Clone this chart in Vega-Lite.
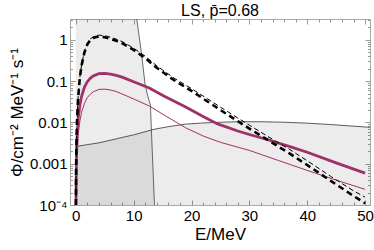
{
  "$schema": "https://vega.github.io/schema/vega-lite/v6.json",
  "width": 300,
  "height": 186,
  "autosize": "none",
  "padding": {"left": 70, "top": 19, "right": 4, "bottom": 45},
  "config": {
    "font": "Liberation Sans",
    "view": {"stroke": "#a8a8a8", "strokeWidth": 1},
    "axis": {"grid": false, "domain": false, "tickColor": "#999999", "labelColor": "black", "titleColor": "black", "labelFont": "Liberation Sans", "titleFont": "Liberation Sans", "labelFontSize": 15, "titleFontSize": 17, "titleFontWeight": "normal"}
  },
  "title": {"text": "LS, p̄=0.68", "fontSize": 16, "fontWeight": "normal", "font": "Liberation Sans", "offset": 4, "dy": 4},
  "datasets": {
    "region1": [
      {"E": 0, "v": 10}, {"E": 10.3, "v": 10}, {"E": 10.5, "v": 3.5}, {"E": 11.3, "v": 0.54}, {"E": 12.0, "v": 0.079}, {"E": 12.4, "v": 0.046}, {"E": 12.9, "v": 0.026}, {"E": 13.05, "v": 0.0076}, {"E": 13.6, "v": 0.0001}, {"E": 13.7, "v": 0.00002}
    ],
    "region2": [
      {"E": 0, "v": 0.0026}, {"E": 2, "v": 0.0029}, {"E": 4, "v": 0.0032}, {"E": 7, "v": 0.004}, {"E": 10, "v": 0.005}, {"E": 13.5, "v": 0.0068}, {"E": 16, "v": 0.0079}, {"E": 19, "v": 0.0091}, {"E": 22, "v": 0.0097}, {"E": 25, "v": 0.0101}, {"E": 28, "v": 0.0104}, {"E": 32, "v": 0.0104}, {"E": 36, "v": 0.0101}, {"E": 40, "v": 0.0096}, {"E": 44, "v": 0.0089}, {"E": 47, "v": 0.0083}, {"E": 51, "v": 0.0076}
    ],
    "dashThick": [
      {"E": 0.02, "v": 0.0001}, {"E": 0.05, "v": 0.0006}, {"E": 0.1, "v": 0.0025}, {"E": 0.2, "v": 0.01}, {"E": 0.4, "v": 0.038}, {"E": 0.7, "v": 0.12}, {"E": 1.0, "v": 0.24}, {"E": 1.5, "v": 0.5}, {"E": 2.0, "v": 0.78}, {"E": 2.5, "v": 0.98}, {"E": 3.0, "v": 1.1}, {"E": 3.5, "v": 1.17}, {"E": 4.0, "v": 1.2}, {"E": 5.0, "v": 1.16}, {"E": 6.0, "v": 1.06}, {"E": 7.0, "v": 0.95}, {"E": 8.0, "v": 0.83}, {"E": 10, "v": 0.57}, {"E": 12, "v": 0.36}, {"E": 14, "v": 0.21}, {"E": 17, "v": 0.105}, {"E": 20, "v": 0.058}, {"E": 25, "v": 0.02}, {"E": 28, "v": 0.0107}, {"E": 30, "v": 0.0071}, {"E": 34, "v": 0.0032}, {"E": 37, "v": 0.00175}, {"E": 40, "v": 0.00093}, {"E": 44, "v": 0.00039}, {"E": 48, "v": 0.000166}, {"E": 50, "v": 0.00011}
    ],
    "dashThin": [
      {"E": 0.02, "v": 0.0001}, {"E": 0.05, "v": 0.0006}, {"E": 0.1, "v": 0.0026}, {"E": 0.2, "v": 0.0105}, {"E": 0.4, "v": 0.04}, {"E": 0.7, "v": 0.125}, {"E": 1.0, "v": 0.25}, {"E": 1.5, "v": 0.53}, {"E": 2.0, "v": 0.83}, {"E": 2.5, "v": 1.05}, {"E": 3.0, "v": 1.18}, {"E": 3.5, "v": 1.26}, {"E": 4.0, "v": 1.3}, {"E": 5.0, "v": 1.26}, {"E": 6.0, "v": 1.16}, {"E": 7.0, "v": 1.04}, {"E": 8.0, "v": 0.91}, {"E": 10, "v": 0.63}, {"E": 12, "v": 0.4}, {"E": 14, "v": 0.235}, {"E": 17, "v": 0.118}, {"E": 20, "v": 0.066}, {"E": 25, "v": 0.0235}, {"E": 28, "v": 0.0128}, {"E": 30, "v": 0.0086}, {"E": 34, "v": 0.0039}, {"E": 37, "v": 0.0022}, {"E": 40, "v": 0.00118}, {"E": 44, "v": 0.0005}, {"E": 48, "v": 0.00022}, {"E": 50, "v": 0.000155}
    ],
    "magThick": [
      {"E": 0.03, "v": 0.0001}, {"E": 0.1, "v": 0.001}, {"E": 0.2, "v": 0.0038}, {"E": 0.4, "v": 0.012}, {"E": 0.7, "v": 0.026}, {"E": 1.0, "v": 0.043}, {"E": 1.5, "v": 0.072}, {"E": 2.0, "v": 0.097}, {"E": 2.5, "v": 0.117}, {"E": 3.0, "v": 0.133}, {"E": 4.0, "v": 0.152}, {"E": 5.0, "v": 0.154}, {"E": 6.0, "v": 0.148}, {"E": 7.0, "v": 0.138}, {"E": 8.0, "v": 0.125}, {"E": 10, "v": 0.097}, {"E": 12.7, "v": 0.068}, {"E": 15.3, "v": 0.043}, {"E": 19, "v": 0.0235}, {"E": 22, "v": 0.014}, {"E": 24.5, "v": 0.0092}, {"E": 28, "v": 0.0062}, {"E": 30, "v": 0.0051}, {"E": 33.5, "v": 0.0037}, {"E": 37, "v": 0.0026}, {"E": 40, "v": 0.0019}, {"E": 45, "v": 0.00105}, {"E": 50, "v": 0.00059}
    ],
    "magThin": [
      {"E": 0.04, "v": 0.0001}, {"E": 0.1, "v": 0.0004}, {"E": 0.2, "v": 0.0015}, {"E": 0.4, "v": 0.0049}, {"E": 0.7, "v": 0.0106}, {"E": 1.0, "v": 0.0175}, {"E": 1.5, "v": 0.029}, {"E": 2.0, "v": 0.04}, {"E": 2.5, "v": 0.048}, {"E": 3.0, "v": 0.055}, {"E": 4.0, "v": 0.063}, {"E": 5.0, "v": 0.064}, {"E": 6.0, "v": 0.061}, {"E": 7.0, "v": 0.056}, {"E": 8.0, "v": 0.049}, {"E": 10, "v": 0.037}, {"E": 12.7, "v": 0.025}, {"E": 15.3, "v": 0.015}, {"E": 19, "v": 0.0074}, {"E": 22, "v": 0.0047}, {"E": 25, "v": 0.0033}, {"E": 30, "v": 0.0021}, {"E": 35, "v": 0.0012}, {"E": 41.4, "v": 0.00059}, {"E": 45, "v": 0.0004}, {"E": 50, "v": 0.00024}
    ]
  },
  "layer": [
    {
      "data": {"name": "region1"},
      "mark": {"type": "area", "color": "black", "opacity": 0.075, "clip": true},
      "encoding": {
        "x": {"field": "E", "type": "quantitative", "scale": {"domain": [-1, 50.85], "nice": false, "zero": false},
              "axis": {"orient": "bottom", "values": [0, 10, 20, 30, 40, 50], "tickSize": -5, "labelPadding": 8, "title": "E/MeV", "titlePadding": 3}},
        "y": {"field": "v", "type": "quantitative", "scale": {"type": "log", "domain": [0.0001, 3.2], "nice": false},
              "axis": {"orient": "left", "values": [0.0001, 0.001, 0.01, 0.1, 1], "tickSize": -5, "labelPadding": 8, "labelExpr": "datum.value < 0.0005 ? '10⁻⁴' : datum.value >= 1 ? '1' : format(datum.value, '~g')", "title": "Φ/cm⁻² MeV⁻¹ s⁻¹", "titlePadding": 3}},
        "y2": {"datum": 0.00001}
      }
    },
    {
      "data": {"name": "region2"},
      "mark": {"type": "area", "color": "black", "opacity": 0.075, "clip": true},
      "encoding": {
        "x": {"field": "E", "type": "quantitative", "scale": {"domain": [-1, 50.85], "nice": false, "zero": false},
              "axis": {"orient": "top", "values": [0, 10, 20, 30, 40, 50], "tickSize": -5, "labels": false, "title": null}},
        "y": {"field": "v", "type": "quantitative", "scale": {"type": "log", "domain": [0.0001, 3.2], "nice": false},
              "axis": {"orient": "right", "values": [0.0001, 0.001, 0.01, 0.1, 1], "tickSize": -5, "labels": false, "title": null}},
        "y2": {"datum": 0.00001}
      }
    },
    {
      "data": {"name": "region1"},
      "mark": {"type": "line", "color": "#444444", "strokeWidth": 0.8, "clip": true},
      "encoding": {
        "x": {"field": "E", "type": "quantitative", "scale": {"domain": [-1, 50.85], "nice": false, "zero": false},
              "axis": {"orient": "bottom", "values": [2, 4, 6, 8, 12, 14, 16, 18, 22, 24, 26, 28, 32, 34, 36, 38, 42, 44, 46, 48], "tickSize": -3, "labels": false, "title": null}},
        "y": {"field": "v", "type": "quantitative", "scale": {"type": "log", "domain": [0.0001, 3.2], "nice": false},
              "axis": {"orient": "left", "values": [0.0002, 0.0003, 0.0004, 0.0005, 0.0006, 0.0007, 0.0008, 0.0009, 0.002, 0.003, 0.004, 0.005, 0.006, 0.007, 0.008, 0.009, 0.02, 0.03, 0.04, 0.05, 0.06, 0.07, 0.08, 0.09, 0.2, 0.3, 0.4, 0.5, 0.6, 0.7, 0.8, 0.9, 2, 3], "tickSize": -2.5, "labels": false, "title": null}}
      }
    },
    {
      "data": {"name": "region2"},
      "mark": {"type": "line", "color": "#333333", "strokeWidth": 0.8, "clip": true},
      "encoding": {
        "x": {"field": "E", "type": "quantitative", "scale": {"domain": [-1, 50.85], "nice": false, "zero": false},
              "axis": {"orient": "top", "values": [2, 4, 6, 8, 12, 14, 16, 18, 22, 24, 26, 28, 32, 34, 36, 38, 42, 44, 46, 48], "tickSize": -3, "labels": false, "title": null}},
        "y": {"field": "v", "type": "quantitative", "scale": {"type": "log", "domain": [0.0001, 3.2], "nice": false},
              "axis": {"orient": "right", "values": [0.0002, 0.0003, 0.0004, 0.0005, 0.0006, 0.0007, 0.0008, 0.0009, 0.002, 0.003, 0.004, 0.005, 0.006, 0.007, 0.008, 0.009, 0.02, 0.03, 0.04, 0.05, 0.06, 0.07, 0.08, 0.09, 0.2, 0.3, 0.4, 0.5, 0.6, 0.7, 0.8, 0.9, 2, 3], "tickSize": -2.5, "labels": false, "title": null}}
      }
    },
    {
      "data": {"name": "magThin"},
      "mark": {"type": "line", "color": "#a0306a", "strokeWidth": 1, "clip": true},
      "encoding": {
        "x": {"field": "E", "type": "quantitative", "scale": {"domain": [-1, 50.85], "nice": false, "zero": false}, "axis": null},
        "y": {"field": "v", "type": "quantitative", "scale": {"type": "log", "domain": [0.0001, 3.2], "nice": false}, "axis": null}
      }
    },
    {
      "data": {"name": "magThick"},
      "mark": {"type": "line", "color": "#a0306a", "strokeWidth": 2.8, "clip": true},
      "encoding": {
        "x": {"field": "E", "type": "quantitative", "scale": {"domain": [-1, 50.85], "nice": false, "zero": false}, "axis": null},
        "y": {"field": "v", "type": "quantitative", "scale": {"type": "log", "domain": [0.0001, 3.2], "nice": false}, "axis": null}
      }
    },
    {
      "data": {"name": "dashThin"},
      "mark": {"type": "line", "color": "black", "strokeWidth": 1, "strokeDash": [5, 3], "clip": true},
      "encoding": {
        "x": {"field": "E", "type": "quantitative", "scale": {"domain": [-1, 50.85], "nice": false, "zero": false}, "axis": null},
        "y": {"field": "v", "type": "quantitative", "scale": {"type": "log", "domain": [0.0001, 3.2], "nice": false}, "axis": null}
      }
    },
    {
      "data": {"name": "dashThick"},
      "mark": {"type": "line", "color": "black", "strokeWidth": 2.6, "strokeDash": [6, 4], "clip": true},
      "encoding": {
        "x": {"field": "E", "type": "quantitative", "scale": {"domain": [-1, 50.85], "nice": false, "zero": false}, "axis": null},
        "y": {"field": "v", "type": "quantitative", "scale": {"type": "log", "domain": [0.0001, 3.2], "nice": false}, "axis": null}
      }
    }
  ],
  "resolve": {"axis": {"x": "independent", "y": "independent"}}
}
